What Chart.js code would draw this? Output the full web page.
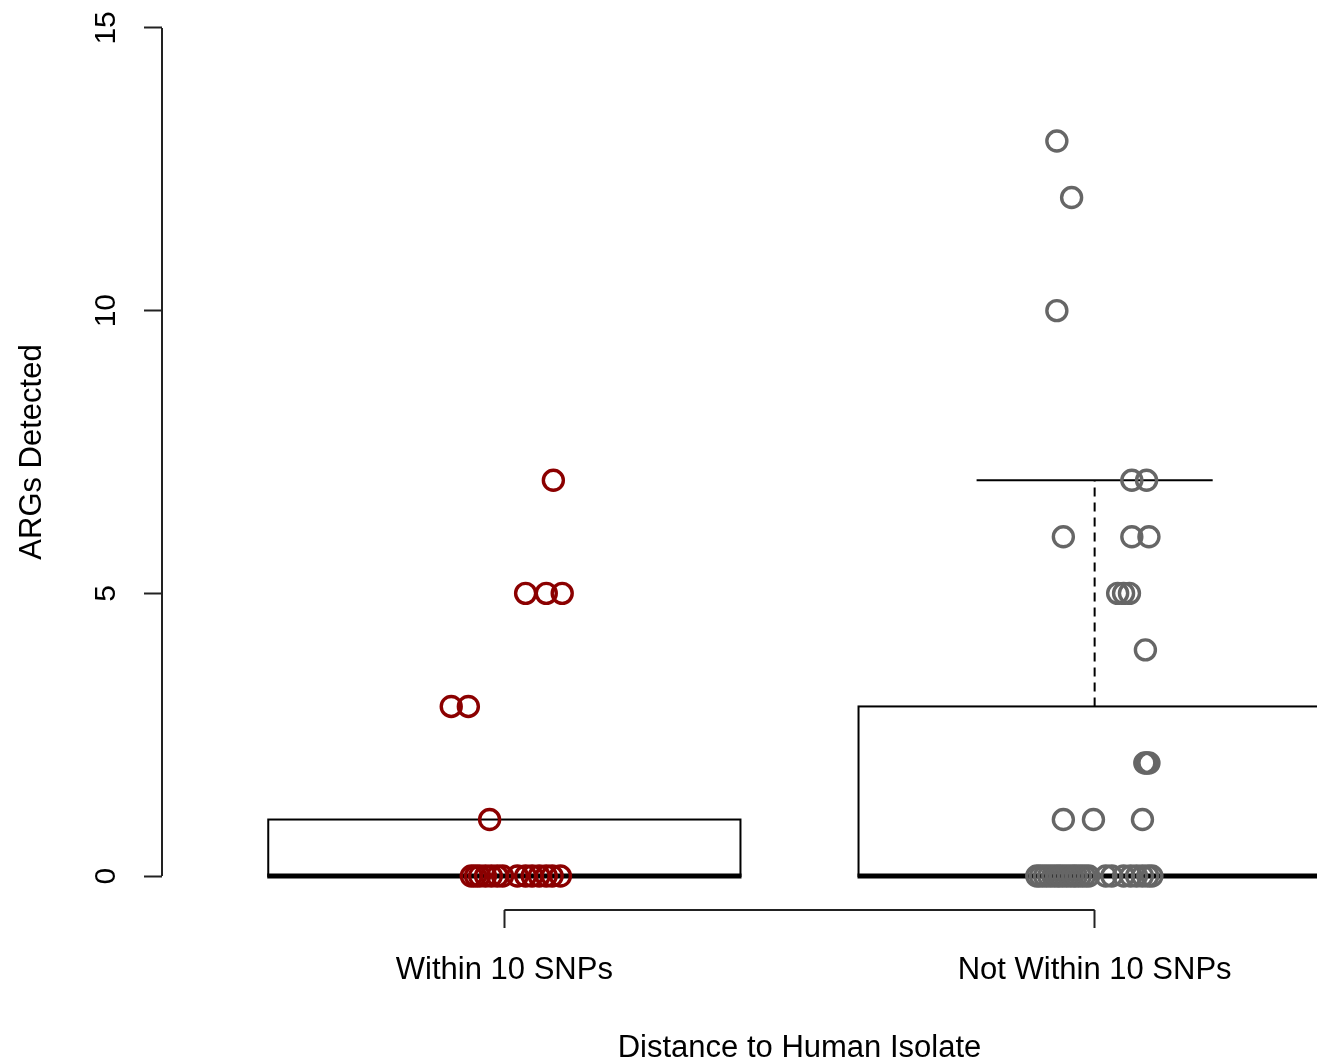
<!DOCTYPE html>
<html>
<head>
<meta charset="utf-8">
<title>ARGs Detected by Distance to Human Isolate</title>
<script src="https://cdn.jsdelivr.net/npm/chart.js@4.4.1/dist/chart.umd.min.js"></script>
<style>
  html, body { margin: 0; padding: 0; background: #fff; overflow: hidden; }
  #wrap { width: 1317px; height: 1063px; overflow: hidden; position: relative; }
  /* the R plot region runs past the top and right edges of the original image */
  #argChart { position: absolute; left: 0; top: -34px; }
</style>
</head>
<body>
<div id="wrap"><canvas id="argChart" width="1437" height="1097"></canvas></div>
<script>
// groups (plotted at x = 1, 2)
const categories = ["Within 10 SNPs", "Not Within 10 SNPs"];
const yTicks = [0, 5, 10, 15];

// boxplot stats per group
const boxQ1 = [0, 0];
const boxMedian = [0, 0];
const boxQ3 = [1, 3];
const whiskerLow = [0, 0];
const whiskerHigh = [1, 7];

// jittered points, Within 10 SNPs
const withinX = [1.083, 1.036, 1.071, 1.098, 0.910, 0.939, 0.975,
  0.944, 0.951, 0.958, 0.968, 0.978, 0.988, 0.997, 1.022, 1.036, 1.047, 1.059, 1.071, 1.081, 1.095];
const withinY = [7, 5, 5, 5, 3, 3, 1,
  0, 0, 0, 0, 0, 0, 0, 0, 0, 0, 0, 0, 0, 0];

// jittered points, Not Within 10 SNPs
const notWithinX = [1.936, 1.961, 1.936, 2.063, 2.088, 1.947, 2.063, 2.092,
  2.039, 2.049, 2.059, 2.086, 2.085, 2.088, 2.092, 1.947, 1.998, 2.081,
  1.902, 1.908, 1.915, 1.922, 1.929, 1.936, 1.942, 1.949, 1.956, 1.963, 1.969,
  1.976, 1.983, 1.990, 2.019, 2.029, 2.049, 2.061, 2.071, 2.081, 2.090, 2.097];
const notWithinY = [13, 12, 10, 7, 7, 6, 6, 6,
  5, 5, 5, 4, 2, 2, 2, 1, 1, 1,
  0, 0, 0, 0, 0, 0, 0, 0, 0, 0, 0,
  0, 0, 0, 0, 0, 0, 0, 0, 0, 0, 0];

const FONT = "'Liberation Sans', Arial, sans-serif";

const toPoints = (xs, ys) => xs.map((x, i) => ({ x: x, y: ys[i] }));

// draws the boxes/whiskers under the points and the R-style short axis lines
const boxPlugin = {
  id: "rBoxes",
  beforeDatasetsDraw(chart) {
    const { ctx } = chart;
    const x = chart.scales.x;
    const y = chart.scales.y;
    ctx.save();
    ctx.strokeStyle = "#000";
    categories.forEach((c, i) => {
      const pos = i + 1;
      const left = x.getPixelForValue(pos - 0.4);
      const right = x.getPixelForValue(pos + 0.4);
      const top = y.getPixelForValue(boxQ3[i]);
      const bottom = y.getPixelForValue(boxQ1[i]);
      const mid = x.getPixelForValue(pos);

      if (whiskerHigh[i] > boxQ3[i]) {
        const wy = y.getPixelForValue(whiskerHigh[i]);
        ctx.lineWidth = 2;
        ctx.setLineDash([9, 6]);
        ctx.beginPath();
        ctx.moveTo(mid, top);
        ctx.lineTo(mid, wy);
        ctx.stroke();
        ctx.setLineDash([]);
        ctx.beginPath();
        ctx.moveTo(x.getPixelForValue(pos - 0.2), wy);
        ctx.lineTo(x.getPixelForValue(pos + 0.2), wy);
        ctx.stroke();
      }

      ctx.lineWidth = 2;
      ctx.strokeRect(left, top, right - left, bottom - top);

      const my = y.getPixelForValue(boxMedian[i]);
      ctx.lineWidth = 5;
      ctx.beginPath();
      ctx.moveTo(left - 1, my);
      ctx.lineTo(right + 1, my);
      ctx.stroke();
    });
    ctx.restore();
  },
  afterDraw(chart) {
    const { ctx, chartArea } = chart;
    const x = chart.scales.x;
    const y = chart.scales.y;
    ctx.save();
    ctx.strokeStyle = "#222";
    ctx.lineWidth = 2;
    ctx.beginPath();
    ctx.moveTo(chartArea.left, y.getPixelForValue(yTicks[0]));
    ctx.lineTo(chartArea.left, y.getPixelForValue(yTicks[yTicks.length - 1]));
    ctx.moveTo(x.getPixelForValue(1), chartArea.bottom);
    ctx.lineTo(x.getPixelForValue(categories.length), chartArea.bottom);
    ctx.stroke();
    ctx.restore();
  }
};

const ctx = document.getElementById("argChart").getContext("2d");
const argChart = new Chart(ctx, {
  type: "scatter",
  data: {
    datasets: [
      {
        label: categories[0],
        data: toPoints(withinX, withinY),
        borderColor: "#8B0000",
        backgroundColor: "rgba(0,0,0,0)",
        pointRadius: 10,
        pointBorderWidth: 3.4,
        clip: false
      },
      {
        label: categories[1],
        data: toPoints(notWithinX, notWithinY),
        borderColor: "#666666",
        backgroundColor: "rgba(0,0,0,0)",
        pointRadius: 10,
        pointBorderWidth: 3.4,
        clip: false
      }
    ]
  },
  options: {
    responsive: false,
    animation: false,
    events: [],
    layout: { autoPadding: false, padding: { left: 0, right: 0, top: 28, bottom: 0 } },
    plugins: {
      legend: { display: false },
      tooltip: { enabled: false }
    },
    scales: {
      x: {
        type: "linear",
        min: 0.42,
        max: 2.58,
        afterBuildTicks: (scale) => {
          scale.ticks = categories.map((c, i) => ({ value: i + 1 }));
        },
        afterFit: (scale) => {
          scale.height = 153;
          scale.paddingLeft = 0;
          scale.paddingRight = 0;
        },
        border: { display: false },
        grid: {
          drawOnChartArea: false,
          drawTicks: true,
          tickLength: 18,
          tickWidth: 2,
          tickColor: "#222"
        },
        ticks: {
          padding: 24,
          color: "#000",
          font: { family: FONT, size: 31 },
          maxRotation: 0,
          autoSkip: false,
          callback: (v) => categories[Math.round(v) - 1]
        },
        title: {
          display: true,
          text: "Distance to Human Isolate",
          color: "#000",
          font: { family: FONT, size: 31 },
          padding: { top: 0, bottom: -4 }
        }
      },
      y: {
        min: -0.6,
        max: 15.6,
        afterBuildTicks: (scale) => {
          scale.ticks = yTicks.map((v) => ({ value: v }));
        },
        afterFit: (scale) => {
          scale.width = 162;
          scale.paddingTop = 0;
          scale.paddingBottom = 0;
        },
        border: { display: false },
        grid: {
          drawOnChartArea: false,
          drawTicks: true,
          tickLength: 18,
          tickWidth: 2,
          tickColor: "#222"
        },
        ticks: {
          minRotation: 90,
          maxRotation: 90,
          crossAlign: "center",
          padding: 21,
          color: "#000",
          font: { family: FONT, size: 30 }
        },
        title: {
          display: true,
          text: "ARGs Detected",
          color: "#000",
          font: { family: FONT, size: 31 },
          padding: { top: 14, bottom: 0 }
        }
      }
    }
  },
  plugins: [boxPlugin]
});
</script>
</body>
</html>
